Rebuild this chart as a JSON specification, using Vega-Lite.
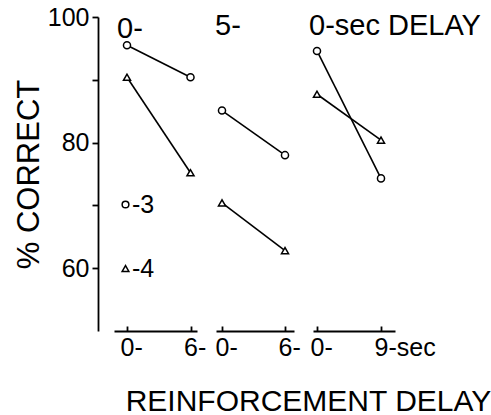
{
  "$schema": "https://vega.github.io/schema/vega-lite/v6.json",
  "padding": {"left": 13, "top": 5, "right": 0, "bottom": 0},
  "bounds": "flush",
  "spacing": 19,
  "data": {"values": [
    {"panel": "0-", "delay": 0, "pct": 95.5, "session": "3"},
    {"panel": "0-", "delay": 6, "pct": 90.4, "session": "3"},
    {"panel": "0-", "delay": 0, "pct": 90.4, "session": "4"},
    {"panel": "0-", "delay": 6, "pct": 75.2, "session": "4"},
    {"panel": "5-", "delay": 0, "pct": 85.1, "session": "3"},
    {"panel": "5-", "delay": 6, "pct": 78.0, "session": "3"},
    {"panel": "5-", "delay": 0, "pct": 70.4, "session": "4"},
    {"panel": "5-", "delay": 6, "pct": 62.8, "session": "4"},
    {"panel": "0-sec DELAY", "delay": 0, "pct": 94.6, "session": "3"},
    {"panel": "0-sec DELAY", "delay": 9, "pct": 74.3, "session": "3"},
    {"panel": "0-sec DELAY", "delay": 0, "pct": 87.7, "session": "4"},
    {"panel": "0-sec DELAY", "delay": 9, "pct": 80.4, "session": "4"}
  ]},
  "hconcat": [
    {
      "width": 83, "height": 314,
      "title": {"text": "0-", "anchor": "start", "frame": "group", "offset": -17, "dy": 45, "baseline": "alphabetic", "dx": 3, "fontSize": 29, "fontWeight": "normal", "font": "Liberation Sans", "color": "black"},
      "transform": [{"filter": "datum.panel === '0-'"}],
      "encoding": {
        "x": {"field": "delay", "type": "quantitative", "scale": {"domain": [-1.228, 6.614], "nice": false, "zero": false},
              "axis": {"values": [0, 6], "labelExpr": "datum.value + '-'", "labelAlign": "left", "labelOffset": -7, "tickSize": -5, "labelPadding": 9, "labelBaseline": "top", "title": null, "labelFlush": false, "labelOverlap": false}},
        "y": {"field": "pct", "type": "quantitative", "scale": {"domain": [50, 100], "nice": false, "zero": false},
              "axis": {"values": [60, 70, 80, 90, 100], "labelExpr": "datum.value % 20 == 0 ? datum.label : ''", "offset": 16, "tickSize": 6, "labelPadding": 3, "title": "% CORRECT", "titleFontSize": 31, "titlePadding": 2, "labelFlush": false, "labelOverlap": false}}
      },
      "layer": [
        {"mark": {"type": "line", "color": "black", "strokeWidth": 1.6}, "encoding": {"detail": {"field": "session"}}},
        {"mark": {"type": "point", "filled": true, "fill": "white", "stroke": "black", "strokeWidth": 1.5, "size": 50, "opacity": 1},
         "encoding": {"shape": {"field": "session", "type": "nominal", "scale": {"domain": ["3", "4"], "range": ["circle", "triangle-up"]},
           "legend": {"orient": "none", "legendX": -1, "legendY": 175, "title": null, "labelExpr": "'-' + datum.label", "rowPadding": 38, "labelFontSize": 25, "labelFont": "Liberation Sans", "labelColor": "black", "symbolSize": 45, "symbolOpacity": 1, "labelOffset": -6, "padding": 0,
             "encode": {"symbols": {"update": {"stroke": {"value": "black"}, "fill": {"value": "white"}, "strokeWidth": {"value": 1.5}, "opacity": {"value": 1}}}}}}}}
      ]
    },
    {
      "width": 78, "height": 314,
      "title": {"text": "5-", "anchor": "start", "frame": "group", "offset": -17, "dy": 30, "baseline": "alphabetic", "dx": -1, "fontSize": 29, "fontWeight": "normal", "font": "Liberation Sans", "color": "black"},
      "transform": [{"filter": "datum.panel === '5-'"}],
      "encoding": {
        "x": {"field": "delay", "type": "quantitative", "scale": {"domain": [-0.571, 6.857], "nice": false, "zero": false},
              "axis": {"values": [0, 6], "labelExpr": "datum.value + '-'", "labelAlign": "left", "labelOffset": -7, "tickSize": -5, "labelPadding": 9, "labelBaseline": "top", "labelFlush": false, "labelOverlap": false,
                       "title": "REINFORCEMENT DELAY", "titleX": 92, "titleY": 79, "titleAlign": "center", "titleBaseline": "alphabetic", "titleFontSize": 30}},
        "y": {"field": "pct", "type": "quantitative", "scale": {"domain": [50, 100], "nice": false, "zero": false}, "axis": null}
      },
      "layer": [
        {"mark": {"type": "line", "color": "black", "strokeWidth": 1.6}, "encoding": {"detail": {"field": "session"}}},
        {"mark": {"type": "point", "filled": true, "fill": "white", "stroke": "black", "strokeWidth": 1.5, "size": 50, "opacity": 1},
         "encoding": {"shape": {"field": "session", "type": "nominal", "scale": {"domain": ["3", "4"], "range": ["circle", "triangle-up"]}}}}
      ]
    },
    {
      "width": 82, "height": 314,
      "title": {"text": "0-sec DELAY", "anchor": "start", "frame": "group", "offset": -17, "dy": 30, "baseline": "alphabetic", "dx": -4, "fontSize": 29, "fontWeight": "normal", "font": "Liberation Sans", "color": "black"},
      "transform": [{"filter": "datum.panel === '0-sec DELAY'"}],
      "encoding": {
        "x": {"field": "delay", "type": "quantitative", "scale": {"domain": [-0.5625, 10.969], "nice": false, "zero": false},
              "axis": {"values": [0, 9], "labelExpr": "datum.value == 9 ? '9-sec' : '0-'", "labelAlign": "left", "labelOffset": -7, "tickSize": -5, "labelPadding": 9, "labelBaseline": "top", "title": null, "labelFlush": false, "labelOverlap": false}},
        "y": {"field": "pct", "type": "quantitative", "scale": {"domain": [50, 100], "nice": false, "zero": false}, "axis": null}
      },
      "layer": [
        {"mark": {"type": "line", "color": "black", "strokeWidth": 1.6}, "encoding": {"detail": {"field": "session"}}},
        {"mark": {"type": "point", "filled": true, "fill": "white", "stroke": "black", "strokeWidth": 1.5, "size": 50, "opacity": 1},
         "encoding": {"shape": {"field": "session", "type": "nominal", "scale": {"domain": ["3", "4"], "range": ["circle", "triangle-up"]}}}}
      ]
    }
  ],
  "config": {
    "font": "Liberation Sans",
    "view": {"stroke": null},
    "axis": {"domainColor": "black", "tickColor": "black", "labelColor": "black", "titleColor": "black", "labelFont": "Liberation Sans", "titleFont": "Liberation Sans", "labelFontSize": 25, "titleFontWeight": "normal", "domainWidth": 1.8, "tickWidth": 1.8, "grid": false}
  }
}
